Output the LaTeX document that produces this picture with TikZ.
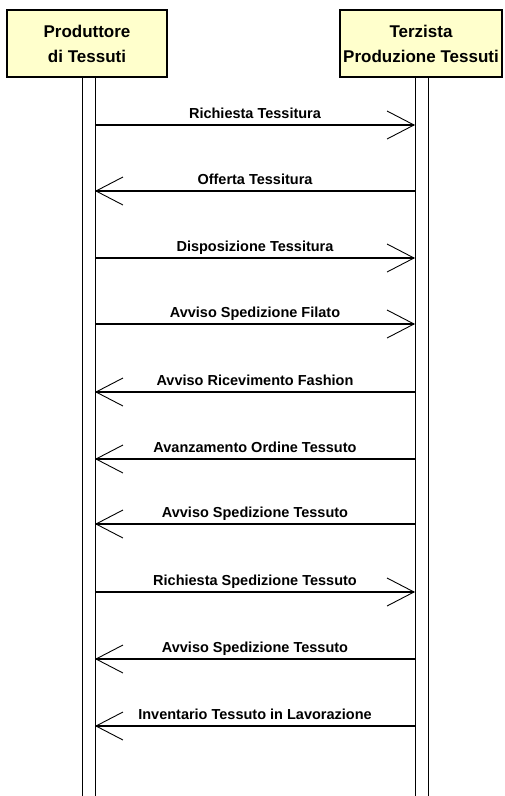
\documentclass[tikz,border=0pt]{standalone}
\usepackage{fontspec}
\setmainfont{Liberation Sans}
\usetikzlibrary{arrows.meta}
\definecolor{actorfill}{HTML}{FFFFCC}
\tikzset{
  actor/.style={draw=black, line width=2pt, fill=actorfill, minimum width=160pt, minimum height=67pt, inner sep=0pt, align=center, font=\fontsize{17}{25}\selectfont\bfseries},
  lifeline/.style={draw=black, line width=1pt, fill=white},
  msg/.style={line width=1.1pt, -{Straight Barb[length=27pt,width=28pt,line width=0.9pt]}},
  msglabel/.style={anchor=base, inner sep=0pt, font=\fontsize{14.5}{16}\selectfont\bfseries}
}
\begin{document}
\begin{tikzpicture}[x=1pt,y=-1pt]
\useasboundingbox (0,0) rectangle (504,796);
% lifelines
\draw[lifeline] (82,77) -- (82,796);
\draw[lifeline] (95,77) -- (95,796);
\draw[lifeline] (415,77) -- (415,796);
\draw[lifeline] (428,77) -- (428,796);
% actors
\node[actor] (A) at (87,43.5) {Produttore\\di Tessuti};
\node[actor, minimum width=162pt] (B) at (421,43.5) {Terzista\\Produzione Tessuti};
% message anchors
\foreach \i/\y in {1/125,2/191,3/258,4/324,5/392,6/459,7/524,8/592,9/659,10/726}{
  \coordinate (L\i) at (95,\y);
  \coordinate (R\i) at (415,\y);
  \coordinate (T\i) at (255,\y-7);
}
\draw[msg] (L1) -- (R1);
\node[msglabel] at (T1) {Richiesta Tessitura};
\draw[msg] (R2) -- (L2);
\node[msglabel] at (T2) {Offerta Tessitura};
\draw[msg] (L3) -- (R3);
\node[msglabel] at (T3) {Disposizione Tessitura};
\draw[msg] (L4) -- (R4);
\node[msglabel] at (T4) {Avviso Spedizione Filato};
\draw[msg] (R5) -- (L5);
\node[msglabel] at (T5) {Avviso Ricevimento Fashion};
\draw[msg] (R6) -- (L6);
\node[msglabel] at (T6) {Avanzamento Ordine Tessuto};
\draw[msg] (R7) -- (L7);
\node[msglabel] at (T7) {Avviso Spedizione Tessuto};
\draw[msg] (L8) -- (R8);
\node[msglabel] at (T8) {Richiesta Spedizione Tessuto};
\draw[msg] (R9) -- (L9);
\node[msglabel] at (T9) {Avviso Spedizione Tessuto};
\draw[msg] (R10) -- (L10);
\node[msglabel] at (T10) {Inventario Tessuto in Lavorazione};
\end{tikzpicture}
\end{document}
